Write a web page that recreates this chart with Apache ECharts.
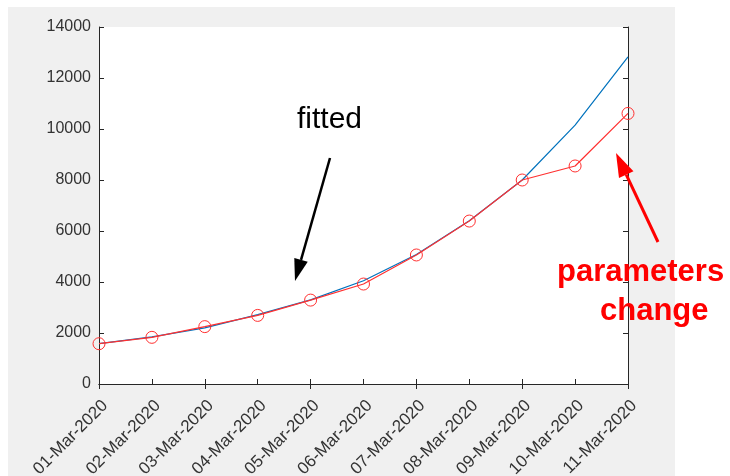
<!DOCTYPE html>
<html>
<head>
<meta charset="utf-8">
<script src="https://cdn.jsdelivr.net/npm/echarts@6/dist/echarts.min.js"></script>
<style>html,body{margin:0;padding:0;background:#fff}#c{width:730px;height:476px}</style>
</head>
<body>
<div id="c"></div>
<script>
const categories = ['01-Mar-2020','02-Mar-2020','03-Mar-2020','04-Mar-2020','05-Mar-2020','06-Mar-2020','07-Mar-2020','08-Mar-2020','09-Mar-2020','10-Mar-2020','11-Mar-2020'];
const fitted = [1580, 1850, 2200, 2720, 3300, 4050, 5080, 6400, 8000, 10150, 12830];
const observed = [1580, 1830, 2250, 2690, 3290, 3920, 5060, 6390, 8000, 8550, 10610];
const yTicks = [0, 2000, 4000, 6000, 8000, 10000, 12000, 14000];

const font = 'Liberation Sans, Arial, sans-serif';
const axisColor = '#262626';
const labelColor = '#333333';
const chart = echarts.init(document.getElementById('c'));

function arrowHead(tip, from, len, half) {
  const dx = tip[0] - from[0], dy = tip[1] - from[1];
  const L = Math.hypot(dx, dy), ux = dx / L, uy = dy / L;
  const bx = tip[0] - ux * len, by = tip[1] - uy * len;
  const px = -uy * half, py = ux * half;
  return { base: [bx, by], pts: [tip, [bx + px, by + py], [bx - px, by - py]] };
}
const bTail = [330, 158], bTip = [295, 281];
const rTail = [658, 242], rTip = [616, 153];
const bh = arrowHead(bTip, bTail, 22, 7);
const rh = arrowHead(rTip, rTail, 24, 8);

chart.setOption({
  animation: false,
  backgroundColor: '#fff',
  graphic: [
    { type: 'rect', z: -10, silent: true, shape: { x: 8, y: 7, width: 667, height: 470 }, style: { fill: '#f0f0f0' } },
    { type: 'text', z: 100, left: 297, top: 105, style: { text: 'fitted', font: '30px ' + font, fill: '#000' } },
    { type: 'line', z: 100, shape: { x1: bTail[0], y1: bTail[1], x2: bh.base[0], y2: bh.base[1] }, style: { stroke: '#000', lineWidth: 2.5 } },
    { type: 'polygon', z: 100, shape: { points: bh.pts }, style: { fill: '#000' } },
    { type: 'line', z: 100, shape: { x1: rTail[0], y1: rTail[1], x2: rh.base[0], y2: rh.base[1] }, style: { stroke: '#ff0000', lineWidth: 3 } },
    { type: 'polygon', z: 100, shape: { points: rh.pts }, style: { fill: '#ff0000' } },
    { type: 'text', z: 100, left: 557, top: 257, style: { text: 'parameters', font: 'bold 31px ' + font, fill: '#ff0000' } },
    { type: 'text', z: 100, left: 600, top: 296, style: { text: 'change', font: 'bold 31px ' + font, fill: '#ff0000' } }
  ],
  grid: { left: 99, top: 27, right: 102, bottom: 92, show: true, backgroundColor: '#fff', borderWidth: 0, containLabel: false, outerBoundsMode: 'none' },
  xAxis: [
    {
      type: 'category', data: categories, boundaryGap: false,
      axisLine: { lineStyle: { color: axisColor, width: 1 } },
      axisTick: { inside: true, length: 5, alignWithLabel: true, lineStyle: { color: axisColor } },
      axisLabel: { rotate: 45, color: labelColor, fontSize: 17, fontFamily: font, margin: 13, interval: 0, verticalAlign: 'top' },
      splitLine: { show: false }
    },
    {
      type: 'category', data: categories, boundaryGap: false, position: 'top',
      axisLine: { lineStyle: { color: axisColor, width: 1 } },
      axisTick: { inside: true, length: 5, lineStyle: { color: axisColor } },
      axisLabel: { show: false }, splitLine: { show: false }
    }
  ],
  yAxis: [
    {
      type: 'value', min: yTicks[0], max: yTicks[yTicks.length - 1], interval: 2000,
      axisLine: { show: true, lineStyle: { color: axisColor, width: 1 } },
      axisTick: { show: true, inside: true, length: 5, lineStyle: { color: axisColor } },
      axisLabel: { color: labelColor, fontSize: 16, fontFamily: font, margin: 8, formatter: v => String(v) },
      splitLine: { show: false }
    },
    {
      type: 'value', min: yTicks[0], max: yTicks[yTicks.length - 1], interval: 2000, position: 'right',
      axisLine: { show: true, lineStyle: { color: axisColor, width: 1 } },
      axisTick: { show: true, inside: true, length: 5, lineStyle: { color: axisColor } },
      axisLabel: { show: false }, splitLine: { show: false }
    }
  ],
  series: [
    {
      name: 'fitted', type: 'line', data: fitted, showSymbol: false, symbol: 'none',
      lineStyle: { color: '#0072BD', width: 1.2 }, z: 2
    },
    {
      name: 'observed', type: 'line', data: observed, symbol: 'circle', symbolSize: 12,
      lineStyle: { color: '#ff3030', width: 1.2 },
      itemStyle: { color: 'rgba(255,255,255,0)', borderColor: '#ff3030', borderWidth: 1 }, z: 3
    }
  ]
});
</script>
</body>
</html>
